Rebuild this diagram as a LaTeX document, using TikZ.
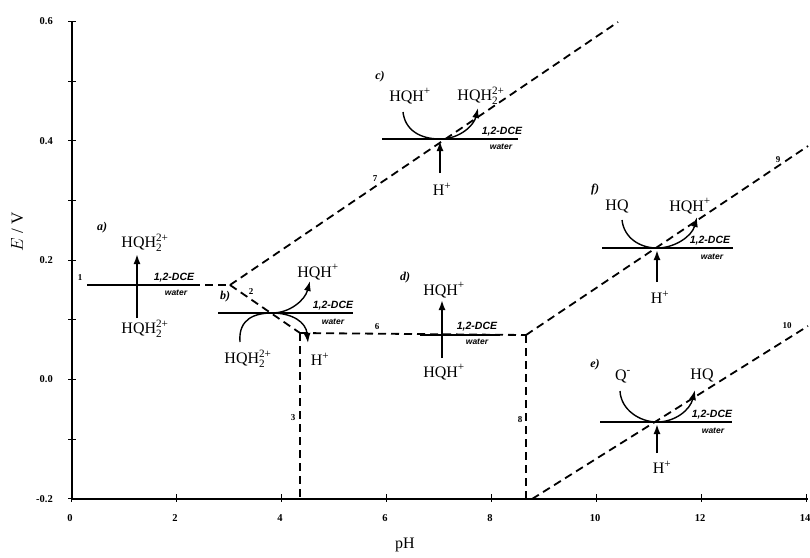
\documentclass[tikz,border=0pt]{standalone}
\usepackage{amsmath}
\usepackage{fontspec}
\setmainfont{Liberation Serif}
\newfontfamily\lsans{Liberation Sans}
\usetikzlibrary{arrows.meta}
\newcommand\HQHtwo{HQH$^{\text{2+}}_{\text{2}}$}
\newcommand\HQHp{HQH$^{\text{+}}$}
\newcommand\Hp{H$^{\text{+}}$}
\newcommand\Qm{Q$^{\text{-}}$}
\begin{document}
\begin{tikzpicture}[x=1pt,y=-1pt,
  axis/.style={line width=1.8pt},
  tk/.style={line width=1pt},
  dline/.style={line width=1.8pt, dash pattern=on 8pt off 5pt},
  iface/.style={line width=1.5pt},
  tklab/.style={font=\fontsize{10.5}{12}\selectfont\bfseries, inner sep=0pt},
  numlab/.style={font=\fontsize{9}{10}\selectfont\bfseries, inner sep=0pt},
  caselab/.style={font=\fontsize{12}{13}\selectfont\bfseries\itshape, inner sep=0pt},
  spec/.style={font=\fontsize{16}{18}\selectfont, inner sep=0pt},
  dce/.style={font=\lsans\fontsize{10.5}{11}\selectfont\bfseries\itshape, inner sep=0pt},
  wat/.style={font=\lsans\fontsize{8.5}{9}\selectfont\bfseries\itshape, inner sep=0pt},
  varr/.style={line width=1.8pt, -{Latex[length=10pt,width=7pt]}},
  carr/.style={line width=1.4pt, -{Latex[length=10pt,width=7pt]}},
]
\useasboundingbox (0,0) rectangle (810,557);
% axes
\coordinate (O) at (72,499);
\coordinate (Ytop) at (72,21);
\coordinate (Xend) at (808,499);
\draw[axis] (Ytop) -- (O) -- (Xend);
% y ticks
\foreach \e in {-0.2,-0.1,...,0.61} {
  \draw[tk] (68,{379.5-597*\e}) -- (76,{379.5-597*\e});
}
\foreach \e/\t in {0.6/0.6,0.4/0.4,0.2/0.2,0/0.0,-0.2/-0.2} {
  \node[tklab, anchor=east] (yl\t) at (53,{379.5-597*\e}) {\t};
}
% x ticks
\foreach \p in {0,2,...,14} {
  \draw[tk] ({71+52.5*\p},494) -- ({71+52.5*\p},502);
  \node[tklab] (xl\p) at ({70+52.5*\p},518) {\p};
}
\node[font=\fontsize{16}{18}\selectfont] (xlab) at (405,545) {pH};
\node[font=\fontsize{17}{19}\selectfont, rotate=90] (ylab) at (17,232) {$E$ / V};

% phase boundary lines
\coordinate (L1s) at (88,285);
\coordinate (K1) at (230,285);
\coordinate (K2) at (300,333);
\coordinate (K3) at (526,335);
\coordinate (L7e) at (618,22);
\coordinate (B3) at (300,499);
\coordinate (B8) at (526,499);
\coordinate (L9e) at (808,146);
\coordinate (L10s) at (532,499);
\coordinate (L10e) at (808,326);
\draw[dline] (L1s) -- (K1);
\draw[dline] (K1) -- (L7e);
\draw[dline] (K1) -- (K2);
\draw[dline] (K2) -- (K3);
\draw[dline] (K2) -- (B3);
\draw[dline] (K3) -- (B8);
\draw[dline] (K3) -- (L9e);
\draw[dline] (L10s) -- (L10e);

\node[numlab] (n1) at (80,278) {1};
\node[numlab] (n2) at (251,292) {2};
\node[numlab] (n3) at (293,418) {3};
\node[numlab] (n6) at (377,327) {6};
\node[numlab] (n7) at (375,179) {7};
\node[numlab] (n8) at (520,420) {8};
\node[numlab] (n9) at (778,160) {9};
\node[numlab] (n10) at (787,326) {10};

% a)
\node[caselab] (ca) at (102,228) {a)};
\node[spec] (aT) at (145,243) {\HQHtwo};
\node[spec] (aB) at (145,329) {\HQHtwo};
\draw[iface] (87,285) -- (197,285);
\node[dce] (adce) at (174,278) {1,2-DCE};
\node[wat] (awat) at (176,293) {water};
\coordinate (aS) at (137,318);
\coordinate (aE) at (137,254);
\draw[varr] (aS) -- (aE);

% b)
\node[caselab] (cb) at (225,297) {b)};
\draw[iface] (218,313) -- (353,313);
\node[dce] (bdce) at (333,306) {1,2-DCE};
\node[wat] (bwat) at (333,322) {water};
\node[spec] (bT) at (318,272) {\HQHp};
\node[spec] (bL) at (248,359) {\HQHtwo};
\node[spec] (bR) at (320,359) {\Hp};
\coordinate (bS) at (240,342);
\coordinate (bX) at (272,313);
\coordinate (bE) at (310,281);
\coordinate (bD) at (308,343);
\draw[carr] (bS) .. controls (238,318) and (256,313) .. (bX) .. controls (290,313) and (305,300) .. (bE);
\draw[carr] (bX) .. controls (292,313) and (306,322) .. (bD);

% c)
\node[caselab] (cc) at (380,77) {c)};
\draw[iface] (382,139) -- (518,139);
\node[dce] (cdce) at (502,132) {1,2-DCE};
\node[wat] (cwat) at (501,147) {water};
\node[spec] (cL) at (410,96) {\HQHp};
\node[spec] (cR) at (481,96) {\HQHtwo};
\node[spec] (cH) at (442,189) {\Hp};
\coordinate (cS) at (403,112);
\coordinate (cX) at (440,139);
\coordinate (cE) at (478,108);
\draw[carr] (cS) .. controls (405,130) and (420,139) .. (cX) .. controls (460,139) and (474,125) .. (cE);
\coordinate (cV) at (440,173);
\draw[varr] (cV) -- (440,141);

% d)
\node[caselab] (cd) at (405,278) {d)};
\draw[iface] (420,335) -- (500,335);
\node[dce] (ddce) at (477,327) {1,2-DCE};
\node[wat] (dwat) at (477,342) {water};
\node[spec] (dT) at (444,290) {\HQHp};
\node[spec] (dB) at (444,372) {\HQHp};
\coordinate (dS) at (442,358);
\coordinate (dE) at (442,300);
\draw[varr] (dS) -- (dE);

% f)
\node[caselab] (cf) at (595,190) {f)};
\draw[iface] (602,248) -- (733,248);
\node[dce] (fdce) at (710,241) {1,2-DCE};
\node[wat] (fwat) at (712,257) {water};
\node[spec] (fL) at (617,206) {HQ};
\node[spec] (fR) at (690,206) {\HQHp};
\node[spec] (fH) at (660,297) {\Hp};
\coordinate (fS) at (622,220);
\coordinate (fX) at (657,248);
\coordinate (fE) at (697,217);
\draw[carr] (fS) .. controls (624,238) and (640,248) .. (fX) .. controls (675,248) and (692,236) .. (fE);
\coordinate (fV) at (657,282);
\draw[varr] (fV) -- (657,250);

% e)
\node[caselab] (ce) at (595,365) {e)};
\draw[iface] (600,422) -- (732,422);
\node[dce] (edce) at (712,415) {1,2-DCE};
\node[wat] (ewat) at (713,431) {water};
\node[spec] (eL) at (623,376) {\Qm};
\node[spec] (eR) at (702,375) {HQ};
\node[spec] (eH) at (662,467) {\Hp};
\coordinate (eS) at (620,391);
\coordinate (eX) at (657,422);
\coordinate (eE) at (695,390);
\draw[carr] (eS) .. controls (621,410) and (640,422) .. (eX) .. controls (675,422) and (690,410) .. (eE);
\coordinate (eV) at (657,453);
\draw[varr] (eV) -- (657,424);
\end{tikzpicture}
\end{document}
